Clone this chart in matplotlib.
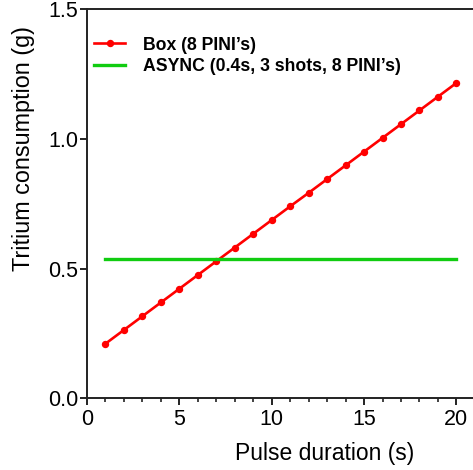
import numpy as np
import matplotlib.pyplot as plt
from matplotlib.ticker import MultipleLocator

plt.rcParams['font.family'] = ['Liberation Sans', 'DejaVu Sans']

pulse = list(range(1, 21))
box = [0.210, 0.263, 0.316, 0.369, 0.422, 0.475, 0.528, 0.581, 0.634, 0.687,
       0.740, 0.792, 0.845, 0.898, 0.951, 1.004, 1.057, 1.110, 1.163, 1.216]
async_x = [1, 20]
async_y = [0.537, 0.537]

fig = plt.figure(figsize=(4.73, 4.70), dpi=100)
ax = fig.add_axes([0.184, 0.153, 0.816, 0.827])

ax.plot(pulse, box, color='#ff0000', lw=1.9, marker='o', ms=4.3, label="Box (8 PINI\u2019s)")
ax.plot(async_x, async_y, color='#11cc11', lw=2.4, label="ASYNC (0.4s, 3 shots, 8 PINI\u2019s)")

ax.set_xlim(0, 20.9)
ax.set_ylim(0, 1.5)
ax.xaxis.set_minor_locator(MultipleLocator(1))
ax.set_xticks([0, 5, 10, 15, 20])
ax.set_yticks([0, 0.5, 1.0, 1.5])
ax.yaxis.set_major_formatter(plt.FormatStrFormatter('%.1f'))

ax.spines['right'].set_visible(False)
for s in ['left', 'bottom', 'top']:
    ax.spines[s].set_linewidth(1.4)
    ax.spines[s].set_color('#222222')
ax.tick_params(which='major', direction='out', length=5, width=1.4, labelsize=15.5, color='#222222')
ax.tick_params(which='minor', direction='out', length=3, width=1.2, color='#222222')
ax.tick_params(axis='x', pad=3)
ax.tick_params(axis='y', pad=1.5)

ax.set_xlabel('Pulse duration (s)', fontsize=16.5)
ax.set_ylabel('Tritium consumption (g)', fontsize=16.8)
ax.xaxis.set_label_coords(0.615, -0.113)
ax.yaxis.set_label_coords(-0.135, 0.642)

leg = ax.legend(loc='upper left', frameon=False, prop={'weight': 'bold', 'size': 12.7},
                handlelength=1.76, handletextpad=1.0, labelspacing=0.25,
                borderaxespad=0, borderpad=0.4, bbox_to_anchor=(0.0, 0.948))

fig.savefig('out.png', dpi=100)
